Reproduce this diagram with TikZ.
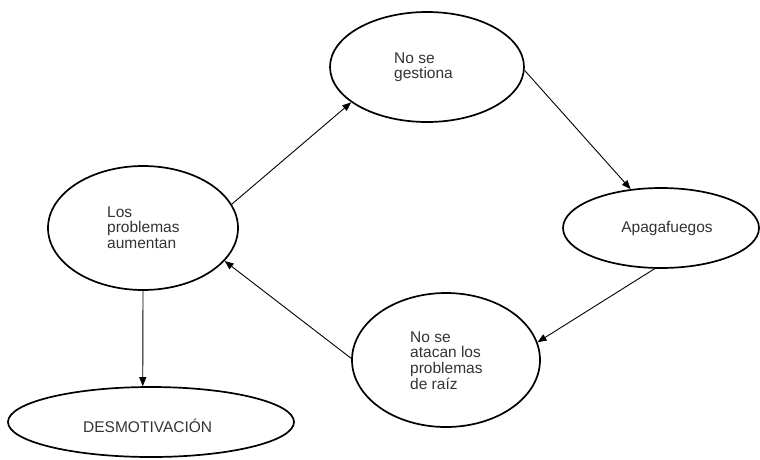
\documentclass[tikz,border=0pt]{standalone}
\usepackage{fontspec}
\setmainfont{Liberation Sans}
\usetikzlibrary{shapes.geometric,arrows.meta}
\begin{document}
\begin{tikzpicture}[x=1pt,y=-1pt,
  bubble/.style={draw=black,line width=1.7pt,ellipse,inner sep=0pt},
  label/.style={inner sep=0pt,text=black!80,font=\fontsize{15.5}{15.6}\selectfont},
  flow/.style={draw=black,line width=0.9pt,-{Triangle[length=9pt,width=7pt]}}]
  \useasboundingbox (0,0) rectangle (760,459);

  % ellipses
  \node[bubble,minimum width=194pt,minimum height=110pt] (ges) at (427,67) {};
  \node[bubble,minimum width=190pt,minimum height=124pt] (los) at (143,228) {};
  \node[bubble,minimum width=196pt,minimum height=80pt]  (apa) at (661,228) {};
  \node[bubble,minimum width=188pt,minimum height=134pt] (ata) at (446,360) {};
  \node[bubble,minimum width=286pt,minimum height=70pt]  (des) at (151,422) {};

  % texts
  \node[label,anchor=base west] (tges) at (394,63)
    {\begin{tabular}[t]{@{}l@{}}No se\\gestiona\end{tabular}};
  \node[label,anchor=base west] (tlos) at (107,217)
    {\begin{tabular}[t]{@{}l@{}}Los\\problemas\\aumentan\end{tabular}};
  \node[label,anchor=base] (tapa) at (667,232) {Apagafuegos};
  \node[label,anchor=base west] (tata) at (410,342)
    {\begin{tabular}[t]{@{}l@{}}No se\\atacan los\\problemas\\de raíz\end{tabular}};
  \node[label,anchor=base west] (tdes) at (83,432) {DESMOTIVACIÓN};

  % cycle and outcome
  \draw[flow] (los.15.5) -- (ges.205);
  \draw[flow] (ges.358) -- (apa.128.5);
  \draw[flow] (apa.261.5) -- (ata.11);
  \draw[flow] (ata.179) -- (los.338);
  \draw[flow] (los.270) -- (des.103);
\end{tikzpicture}
\end{document}
